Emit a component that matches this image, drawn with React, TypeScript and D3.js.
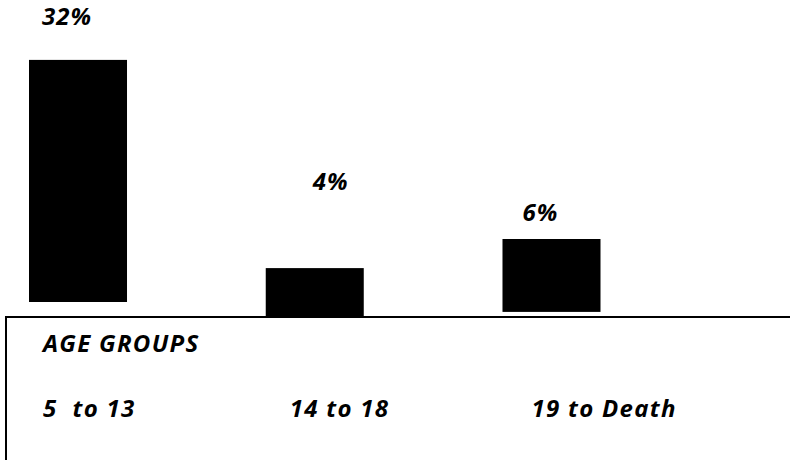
import React from "react";
import * as d3 from "d3";

// ---- data ----
const categories = ["5  to 13", "14 to 18", "19 to Death"];
const percentLabels = [32, 4, 6];
// bar extents as drawn in the picture (chart units, 0 = axis line)
const barLow = [5, 0, 1.7];
const barHigh = [85.7, 16.3, 26];
// where each percentage label sits (chart units)
const labelLevel = [97.3, 42.3, 32];
const axisTitle = "AGE GROUPS";

const W = 790;
const H = 460;
const FONT = "'Open Sans', Lato, sans-serif";

export default function App() {
  const x = d3
    .scaleBand<string>()
    .domain(categories)
    .range([29, 600.5])
    .paddingInner(0.586)
    .paddingOuter(0);
  const y = d3.scaleLinear().domain([0, 100]).range([317, 17]);

  const pctDx = [-11, 16, -11];
  const catDx = [14, 24, 29];
  const fs = 24;
  const ls = 1.3;

  return (
    <svg
      width={W}
      height={H}
      style={{ position: "fixed", left: 0, top: 0, background: "#fff" }}
      fontFamily={FONT}
      fontStyle="italic"
      fontWeight="bold"
    >
      <rect width={W} height={H} fill="#fff" />
      {categories.map((c, i) => (
        <rect
          key={c}
          x={x(c)}
          width={x.bandwidth()}
          y={y(barHigh[i])}
          height={y(barLow[i]) - y(barHigh[i])}
          fill="#000"
        />
      ))}
      {categories.map((c, i) => (
        <text
          key={"p" + c}
          x={(x(c) as number) + x.bandwidth() / 2 + pctDx[i]}
          y={y(labelLevel[i])}
          textAnchor="middle"
          fontSize={fs}
          letterSpacing={1}
          fill="#000"
        >
          {percentLabels[i] + "%"}
        </text>
      ))}
      <line x1={5} x2={W} y1={y(0)} y2={y(0)} stroke="#000" strokeWidth={2} />
      <line x1={6} x2={6} y1={y(0)} y2={H} stroke="#000" strokeWidth={2} />
      <text x={43} y={352} fontSize={fs} letterSpacing={ls} fill="#000">
        {axisTitle}
      </text>
      {categories.map((c, i) => (
        <text
          key={"c" + c}
          x={(x(c) as number) + catDx[i]}
          y={416.5}
          fontSize={fs}
          letterSpacing={ls}
          fill="#000"
          style={{ whiteSpace: "pre" }}
        >
          {c}
        </text>
      ))}
    </svg>
  );
}
